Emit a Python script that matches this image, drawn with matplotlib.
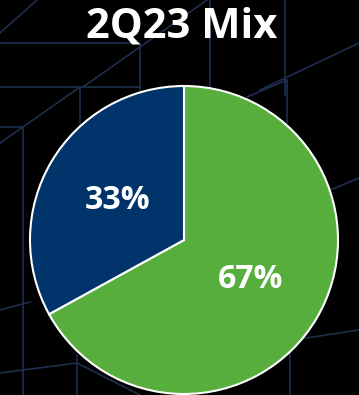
import matplotlib
matplotlib.use("Agg")
import matplotlib.pyplot as plt

# Product mix for the quarter
title = "2Q23 Mix"
segments = ["Green", "Navy"]
shares = [67, 33]
colors = ["#57AE3D", "#00346A"]

W, H = 359, 395
fig = plt.figure(figsize=(W / 100, H / 100), dpi=100, facecolor="black")
ax = fig.add_axes([0, 0, 1, 1])
ax.set_facecolor("black")
ax.set_xlim(0, W)
ax.set_ylim(0, H)
ax.set_aspect("equal")
ax.axis("off")

# Decorative wireframe backdrop (pixel coordinates measured from the top)
grid_lines = [
    [(0, 33), (37, 0)],
    [(83, 87), (207, 0)],
    [(210, 0), (210, 88)],
    [(285, 0), (285, 95)],
    [(0, 43), (140, 43)],
    [(140, 43), (140, 90)],
    [(0, 87), (140, 87)],
    [(80, 87), (80, 160)],
    [(0, 143), (80, 87)],
    [(23, 127), (23, 395)],
    [(0, 127), (23, 127)],
    [(260, 90), (359, 43)],
    [(247, 97), (287, 80)],
    [(287, 80), (287, 123)],
    [(330, 190), (359, 178)],
    [(0, 310), (30, 302)],
    [(0, 373), (77, 363)],
    [(77, 355), (77, 395)],
    [(293, 340), (359, 330)],
    [(290, 340), (290, 395)],
    [(77, 363), (140, 395)],
]
for (x0, y0), (x1, y1) in grid_lines:
    ax.plot([x0, x1], [H - y0, H - y1], color="#1E2F4D", lw=1.2, zorder=0)

wedges, texts, autotexts = ax.pie(
    shares,
    colors=colors,
    startangle=90,
    counterclock=False,
    center=(184, H - 240),
    radius=154,
    autopct=lambda p: f"{round(p):d}%",
    pctdistance=0.5,
    wedgeprops=dict(edgecolor="white", linewidth=1.5),
    textprops=dict(color="white", fontsize=23, fontweight="bold", family="Open Sans"),
    frame=True,
)
ax.set_xlim(0, W)
ax.set_ylim(0, H)
ax.axis("off")

ax.text(W / 2 + 2, H - 27, title, color="white", fontsize=30, fontweight="bold",
        family="Open Sans", ha="center", va="center")

fig.savefig("out.png", dpi=100, facecolor="black")
